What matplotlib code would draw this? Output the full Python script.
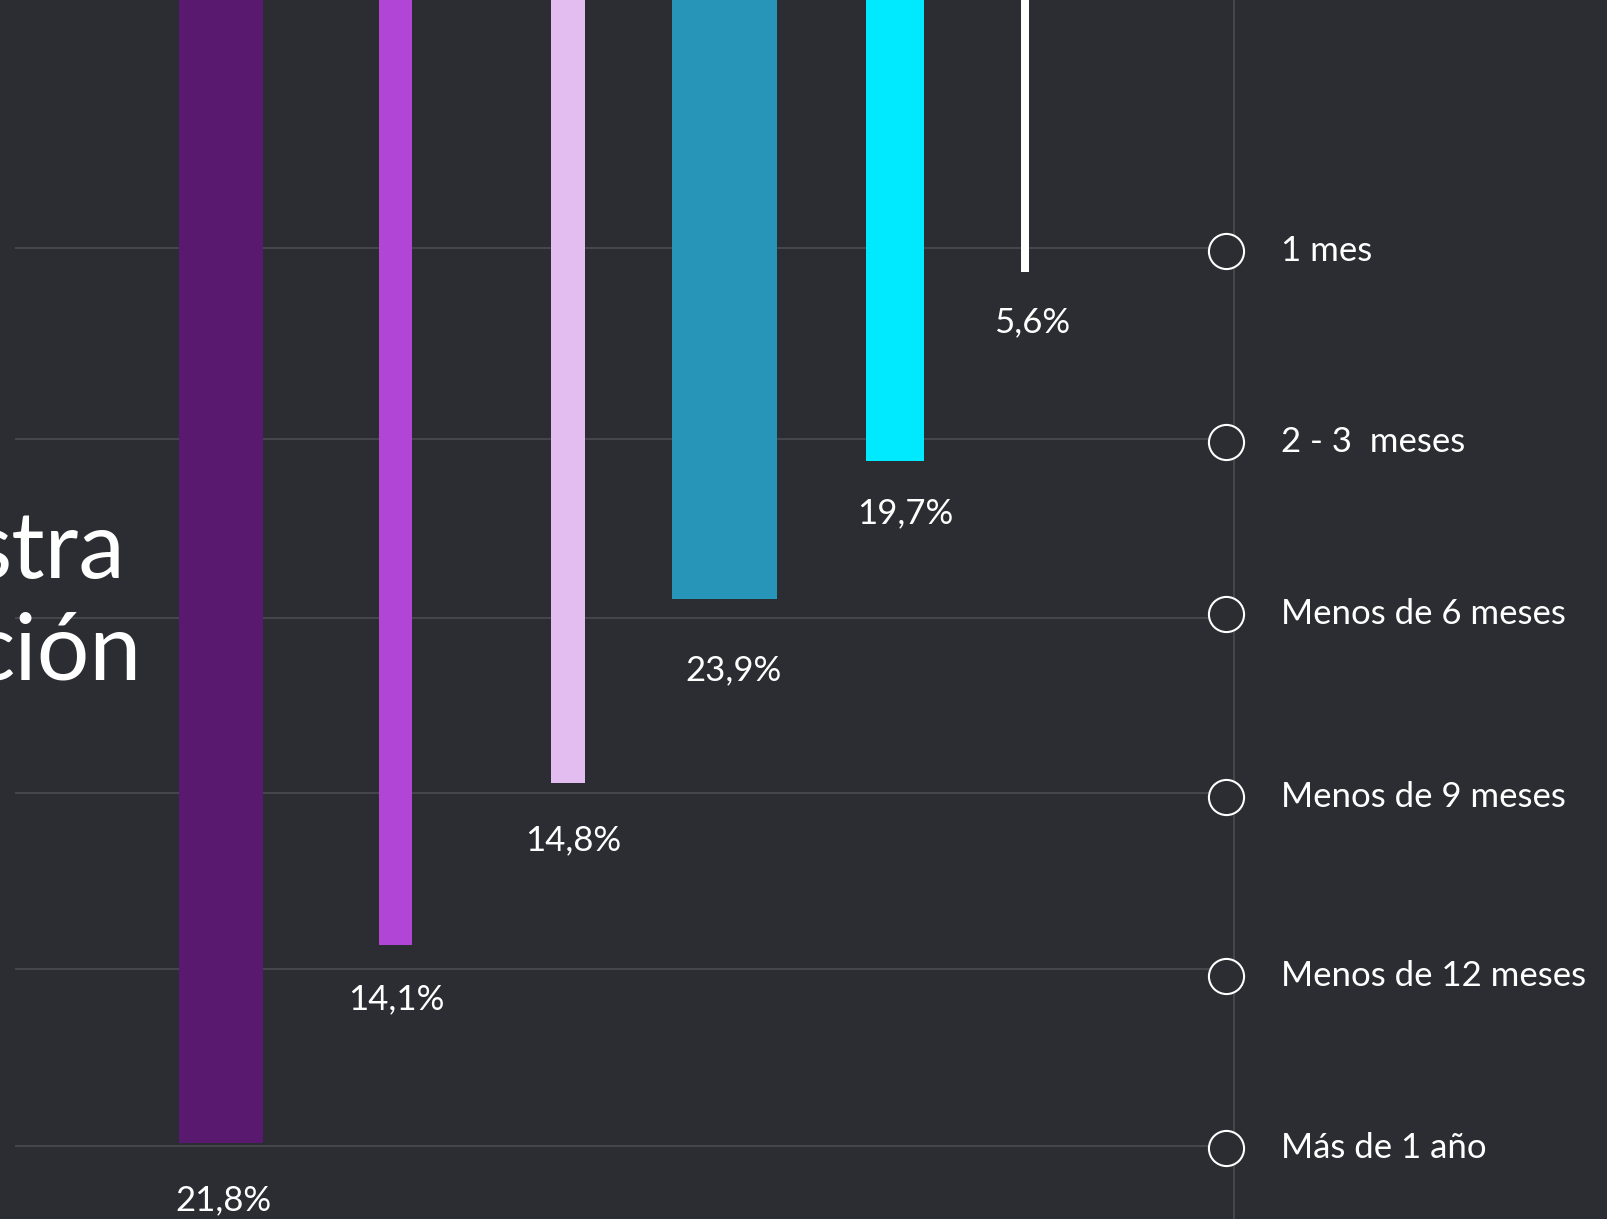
import matplotlib.pyplot as plt

# bars hang from the top edge; depth in px of the slide
bar_labels = ["21,8%", "14,1%", "14,8%", "23,9%", "19,7%", "5,6%"]
bar_depth = [1143, 945, 783, 599, 461, 272]
bar_colors = ["#59196e", "#b045d6", "#e3bdf0", "#2795b7", "#00eaff", "#ffffff"]
bar_x = [221, 396, 568, 725, 895, 1025]
bar_w = [84, 33, 34, 105, 58, 8]
label_x = [223, 396, 573, 734, 905, 1032]
label_gap = [57, 54, 57, 71, 52, 50]

categories = ["1 mes", "2 - 3  meses", "Menos de 6 meses", "Menos de 9 meses",
              "Menos de 12 meses", "Más de 1 año"]
cat_y = [248, 439, 618, 793, 969, 1146]
circ_y = [251, 442, 614, 797, 976, 1148]

bg = "#2c2d32"
grid = "#46474c"
font = ["Lato", "DejaVu Sans"]

fig = plt.figure(figsize=(16.08, 12.19), dpi=100)
fig.patch.set_facecolor(bg)
ax = fig.add_axes([0, 0, 1, 1])
ax.set_facecolor(bg)
ax.set_xlim(0, 1608)
ax.set_ylim(1219, 0)
ax.axis("off")

# grid lines and the vertical timeline
for y in cat_y:
    ax.plot([16, 1226], [y, y], color=grid, lw=1.4, zorder=0)
ax.axvline(1234, color=grid, lw=1.4, zorder=0)

ax.bar(bar_x, bar_depth, width=bar_w, bottom=0, color=bar_colors, zorder=2)

for x, d, g, t in zip(label_x, bar_depth, label_gap, bar_labels):
    ax.text(x, d + g, t, color="white", fontsize=25, family=font,
            ha="center", va="center")

ax.scatter([1226] * len(circ_y), circ_y, s=640, facecolor=bg,
           edgecolor="white", linewidth=1.5, zorder=3)
for y, c in zip(circ_y, categories):
    ax.text(1281, y, c, color="white", fontsize=25, family=font,
            ha="left", va="center")

# title, cut off at the left edge of the slide
ax.text(126, 552, "stra", color="white", fontsize=67, family=font,
        ha="right", va="center")
ax.text(141, 654, "ción", color="white", fontsize=67, family=font,
        ha="right", va="center")

fig.savefig("out.png", dpi=100, facecolor=bg)
